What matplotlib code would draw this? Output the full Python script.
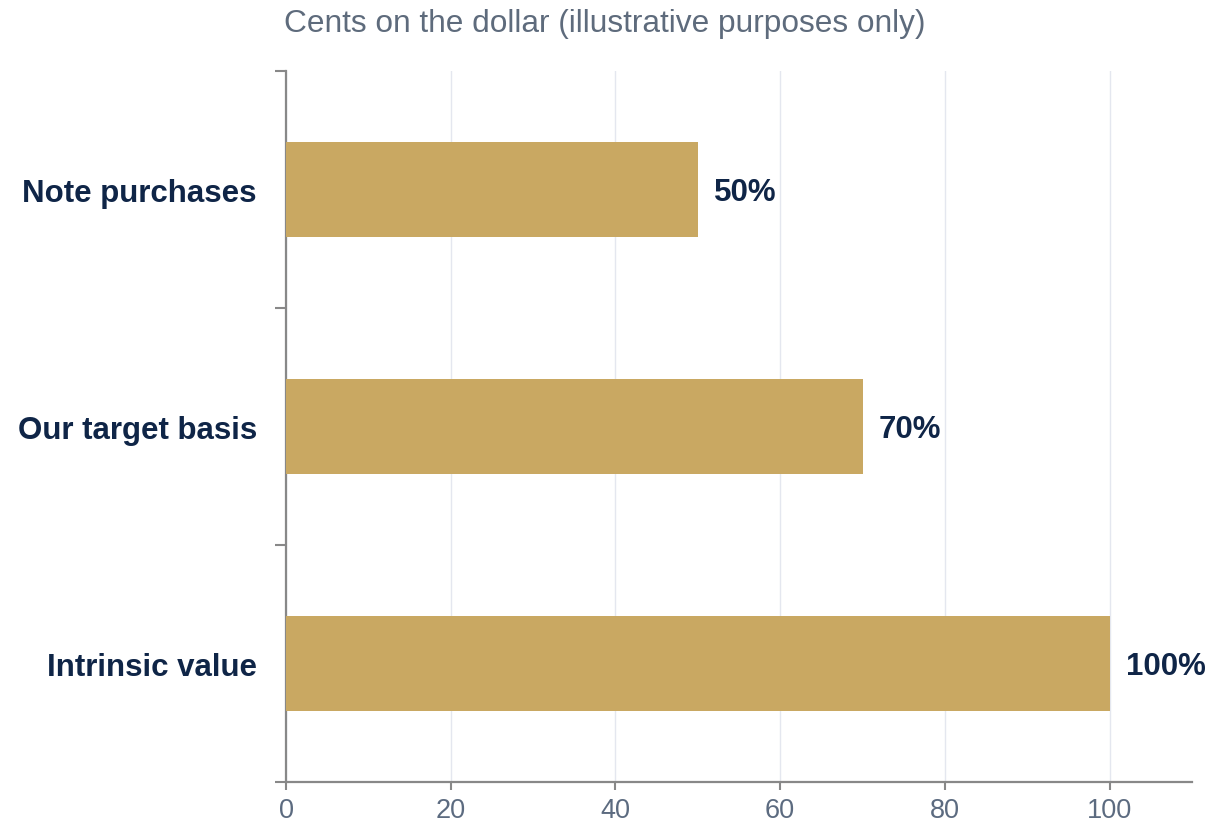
import matplotlib
matplotlib.use("Agg")
import matplotlib.pyplot as plt
from matplotlib.ticker import FixedLocator

categories = ["Note purchases", "Our target basis", "Intrinsic value"]
values = [50, 70, 100]
value_labels = ["50%", "70%", "100%"]
x_ticks = [0, 20, 40, 60, 80, 100]
title = "Cents on the dollar (illustrative purposes only)"

plt.rcParams['font.family'] = ['Liberation Sans', 'DejaVu Sans']

fig = plt.figure(figsize=(12.1, 8.28), dpi=100)
ax = fig.add_axes([286/1210, 1-783/828, (1192-286)/1210, (783-72)/828])

bar_color = "#C9A862"
label_color = "#0F2547"
tick_color = "#5C6B80"
spine_color = "#888888"

ypos = list(range(len(categories)))
ax.barh(ypos, values, height=0.4, color=bar_color, zorder=3)
ax.set_ylim(len(categories) - 0.5, -0.5)
ax.set_xlim(0, 110)

for y, v, lab in zip(ypos, values, value_labels):
    ax.annotate(lab, xy=(v, y), xytext=(16, -3), textcoords="offset pixels",
                va="center", ha="left", fontsize=22.5, fontweight="bold", color=label_color)

ax.set_yticks(ypos)
ax.set_yticklabels(categories, fontsize=22.5, fontweight="bold", color=label_color)
ax.tick_params(axis="y", which="major", length=0, pad=21)
ax.yaxis.set_minor_locator(FixedLocator([-0.5, 0.5, 1.5, 2.5]))
ax.tick_params(axis="y", which="minor", length=8, width=1.5, color=spine_color)

ax.set_xticks(x_ticks)
ax.set_xticklabels([str(t) for t in x_ticks], fontsize=19.5, color=tick_color)
ax.tick_params(axis="x", which="major", length=6, width=1.5, color=spine_color, pad=5)

ax.grid(axis="x", color="#E4E7EF", linewidth=1, zorder=0)
ax.set_axisbelow(True)

for s in ["top", "right"]:
    ax.spines[s].set_visible(False)
for s in ["left", "bottom"]:
    ax.spines[s].set_color(spine_color)
    ax.spines[s].set_linewidth(1.6)

fig.text(0.5, 1 - 24/828, title, ha="center", va="center", fontsize=22.8, color="#5E6B7C")

fig.savefig("out.png", dpi=100)
